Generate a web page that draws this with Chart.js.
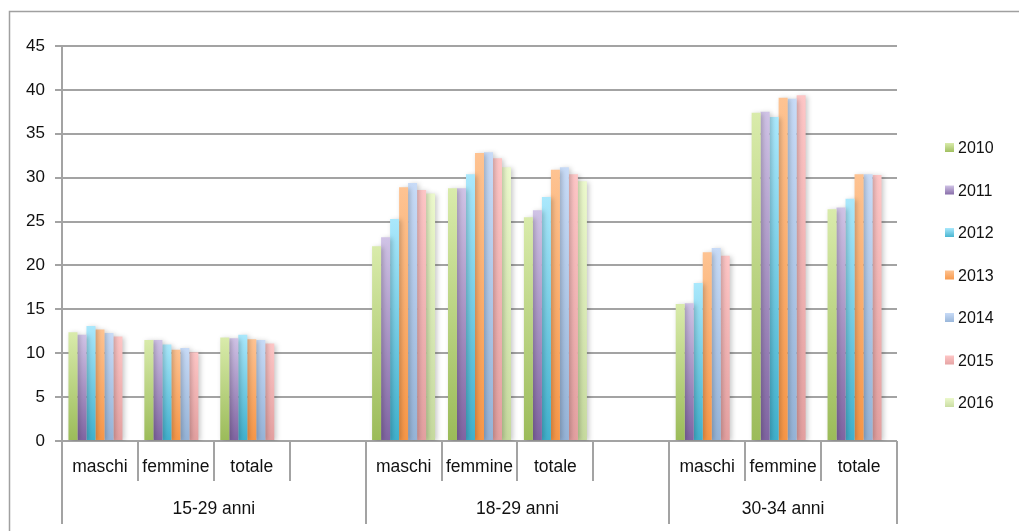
<!DOCTYPE html>
<html>
<head>
<meta charset="utf-8">
<script src="https://cdn.jsdelivr.net/npm/chart.js@4/dist/chart.umd.min.js"></script>
<style>
  html, body { margin: 0; padding: 0; background: #fff; }
  #wrap { width: 1019px; height: 531px; position: relative; }
</style>
</head>
<body>
<div id="wrap"><canvas id="chart" width="1019" height="531"></canvas></div>
<script>
// categories on the first axis level, groups on the second
const categories = ["maschi", "femmine", "totale", "", "maschi", "femmine", "totale", "", "maschi", "femmine", "totale"]
const groups = ["15-29 anni", "18-29 anni", "30-34 anni"]
const groupSpans = [4, 4, 3]
const years = ["2010", "2011", "2012", "2013", "2014", "2015", "2016"]
const yTicks = [0, 5, 10, 15, 20, 25, 30, 35, 40, 45]

// one array per year, null where there is no bar
const v2010 = [12.4, 11.5, 11.8, null, 22.2, 28.8, 25.5, null, 15.6, 37.4, 26.4]
const v2011 = [12.1, 11.5, 11.7, null, 23.2, 28.8, 26.3, null, 15.7, 37.5, 26.6]
const v2012 = [13.1, 11.0, 12.1, null, 25.3, 30.4, 27.8, null, 18.0, 36.9, 27.6]
const v2013 = [12.7, 10.4, 11.6, null, 28.9, 32.8, 30.9, null, 21.5, 39.1, 30.4]
const v2014 = [12.3, 10.6, 11.5, null, 29.4, 32.9, 31.2, null, 22.0, 39.0, 30.4]
const v2015 = [11.9, 10.1, 11.1, null, 28.6, 32.2, 30.4, null, 21.1, 39.4, 30.3]
const v2016 = [null, null, null, null, 28.2, 31.2, 29.6, null, null, null, null]
const series = [v2010, v2011, v2012, v2013, v2014, v2015, v2016]

// light (top) and dark (bottom) colours for each year's gradient
const topColors = ["#d9ebab", "#d0c3e6", "#aae8fc", "#fec392", "#c8dbf7", "#fec6c6", "#ecf9cc"]
const bottomColors = ["#9bbb59", "#8064a2", "#3fb0cc", "#f79646", "#95b3d7", "#e3a0a0", "#c6da9e"]

const FONT = "'Liberation Sans', Arial, sans-serif"
const GRID = "#a3a3a3"

function barFill(i) {
  return (ctx) => {
    const chart = ctx.chart
    const y = chart.scales && chart.scales.y
    if (!y || ctx.raw == null || !chart.chartArea) return bottomColors[i]
    const top = y.getPixelForValue(ctx.raw)
    const base = y.getPixelForValue(0)
    const g = chart.ctx.createLinearGradient(0, top, 0, base)
    g.addColorStop(0, topColors[i])
    g.addColorStop(1, bottomColors[i])
    return g
  }
}

// soft shadow behind the bars
const barShadow = {
  id: "barShadow",
  beforeDatasetsDraw(chart) {
    const c = chart.ctx
    c.save()
    c.shadowColor = "rgba(0,0,0,0.22)"
    c.shadowBlur = 5
    c.shadowOffsetX = 2
    c.shadowOffsetY = 1
  },
  afterDatasetsDraw(chart) {
    chart.ctx.restore()
  }
}

// frame, two-level category axis and legend
const decorations = {
  id: "decorations",
  beforeDraw(chart) {
    const c = chart.ctx
    c.save()
    c.strokeStyle = "#a0a0a0"
    c.lineWidth = 1.5
    c.beginPath()
    c.moveTo(9.5, 540)
    c.lineTo(9.5, 11.5)
    c.lineTo(1030, 11.5)
    c.stroke()
    c.restore()
  },
  afterDraw(chart) {
    const c = chart.ctx
    const x = chart.scales.x
    const area = chart.chartArea
    const n = categories.length
    const w = (area.right - area.left) / n
    c.save()
    c.strokeStyle = GRID
    c.lineWidth = 2
    // y axis continues down through the label rows
    c.beginPath()
    c.moveTo(area.left, area.top)
    c.lineTo(area.left, 524)
    c.stroke()
    const groupStarts = [0]
    groupSpans.forEach((s, k) => groupStarts.push(groupStarts[k] + s))
    for (let i = 1; i <= n; i++) {
      const px = Math.round(area.left + i * w)
      const long = groupStarts.includes(i)
      c.beginPath()
      c.moveTo(px, area.bottom)
      c.lineTo(px, long ? 524 : 481)
      c.stroke()
    }
    c.fillStyle = "#111"
    c.font = "17.5px " + FONT
    c.textAlign = "center"
    c.textBaseline = "middle"
    categories.forEach((lab, i) => {
      if (lab) c.fillText(lab, x.getPixelForValue(i), 467)
    })
    groups.forEach((g, k) => {
      const a = area.left + groupStarts[k] * w
      const b = area.left + groupStarts[k + 1] * w
      c.fillText(g, (a + b) / 2, 509)
    })
    // legend
    c.textAlign = "left"
    c.font = "16px " + FONT
    years.forEach((yr, i) => {
      const cy = 148 + i * 42.5
      const g = c.createLinearGradient(0, cy - 5, 0, cy + 5)
      g.addColorStop(0, topColors[i])
      g.addColorStop(1, bottomColors[i])
      c.fillStyle = g
      c.fillRect(945, cy - 5, 9, 9)
      c.fillStyle = "#111"
      c.fillText(yr, 958, cy + 1)
    })
    c.restore()
  }
}

new Chart(document.getElementById("chart"), {
  type: "bar",
  data: {
    labels: categories,
    datasets: series.map((data, i) => ({
      label: years[i],
      data,
      backgroundColor: barFill(i),
      borderWidth: 0,
      categoryPercentage: 0.83,
      barPercentage: 1.0,
    })),
  },
  options: {
    responsive: false,
    animation: false,
    devicePixelRatio: 1,
    layout: { padding: { left: 0, top: 46, right: 122, bottom: 0 } },
    plugins: {
      legend: { display: false },
      tooltip: { enabled: false },
    },
    scales: {
      x: {
        offset: true,
        grid: { display: false },
        border: { display: false },
        ticks: { display: false },
        afterFit(scale) { scale.height = 90 },
      },
      y: {
        min: 0,
        max: 45,
        afterBuildTicks(scale) { scale.ticks = yTicks.map((v) => ({ value: v })) },
        grid: { color: GRID, lineWidth: 2, tickLength: 7 },
        border: { display: false },
        ticks: { color: "#111", padding: 10, font: { family: FONT, size: 17 } },
        afterFit(scale) { scale.width = 62 },
      },
    },
  },
  plugins: [barShadow, decorations],
})
</script>
</body>
</html>
